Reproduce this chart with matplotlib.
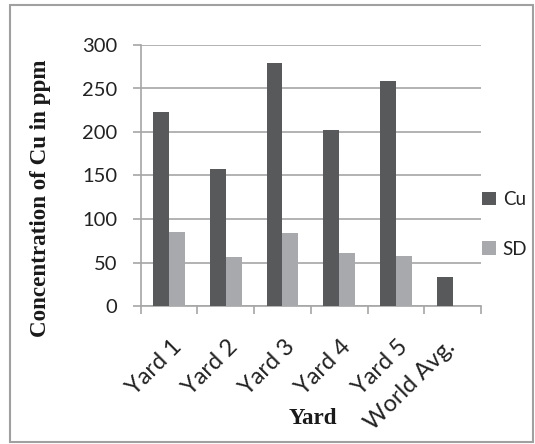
import matplotlib
matplotlib.use("Agg")
import matplotlib.pyplot as plt
import matplotlib.transforms as mtransforms
from matplotlib.patches import Rectangle
import numpy as np

# values
yards = ["Yard 1", "Yard 2", "Yard 3", "Yard 4", "Yard 5", "World Avg."]
cu = [223, 157, 279, 202, 259, 33]
sd = [85, 56, 84, 61, 58, np.nan]

dark = "#58595b"
light = "#a7a9ac"
grid_col = "#a6a6a6"
tick_font = "Lato"

fig = plt.figure(figsize=(5.35, 4.44), dpi=100)
ax = fig.add_axes([140.7 / 535, 1 - 306 / 444, (481 - 140.7) / 535, (306 - 45) / 444])

x = np.arange(len(yards))
w = 0.28
ax.bar(x - w / 2, cu, w, color=dark, label="Cu", zorder=3)
ax.bar(x + w / 2, sd, w, color=light, label="SD", zorder=3)

ax.set_xlim(-0.5, len(yards) - 0.5)
ax.set_ylim(0, 300)
ax.set_yticks(np.arange(0, 301, 50))
ax.yaxis.grid(True, color=grid_col, linewidth=1.2, zorder=0)

for s in ["top", "right"]:
    ax.spines[s].set_visible(False)
for s in ["left", "bottom"]:
    ax.spines[s].set_color(grid_col)
    ax.spines[s].set_linewidth(1.2)

ax.tick_params(axis="y", length=6, width=1.2, color=grid_col, pad=11,
               labelsize=14.5, labelcolor="#222222")
for lab in ax.get_yticklabels():
    lab.set_fontfamily(tick_font)

# category labels at centres, tick marks at the boundaries
ax.set_xticks(x)
ax.set_xticklabels(yards, rotation=45, ha="right", va="center",
                   rotation_mode="anchor", fontsize=17, color="#222222",
                   fontfamily=tick_font)
ax.tick_params(axis="x", which="major", length=0, pad=27)
ax.set_xticks(np.arange(-0.5, len(yards)), minor=True)
ax.tick_params(axis="x", which="minor", length=6, width=1.2, color=grid_col)
dx = [9, 9, 9, 8, 8, -1]
for lab, d in zip(ax.get_xticklabels(), dx):
    shift = mtransforms.ScaledTranslation(d / 100, 0, fig.dpi_scale_trans)
    lab.set_transform(lab.get_transform() + shift)

ax.set_ylabel("Concentration of Cu in ppm", fontfamily="Liberation Serif",
              fontweight="bold", fontsize=16.6, color="#1a1a1a")
ax.yaxis.set_label_coords(51.5 / 535, 1 - 198 / 444, transform=fig.transFigure)
ax.set_xlabel("Yard", fontfamily="Liberation Serif", fontweight="bold",
              fontsize=16.6, color="#1a1a1a")
ax.xaxis.set_label_coords(313 / 535, 1 - 418 / 444, transform=fig.transFigure)
ax.xaxis.label.set_va("center")

leg = ax.legend(loc="center left", bbox_to_anchor=(482 / 535, 1 - 224.5 / 444),
                bbox_transform=fig.transFigure, frameon=False,
                handlelength=0.75, handleheight=0.75, handletextpad=0.35,
                labelspacing=1.75, borderpad=0, borderaxespad=0,
                prop={"family": tick_font, "size": 13.5})
for t in leg.get_texts():
    t.set_color("#222222")

# grey frame round the chart
fig.patches.append(Rectangle((10 / 535, 2 / 444), 523 / 535, 437 / 444,
                             transform=fig.transFigure, fill=False,
                             edgecolor="#a0a0a0", linewidth=1.5))

fig.savefig("out.png", dpi=100)
